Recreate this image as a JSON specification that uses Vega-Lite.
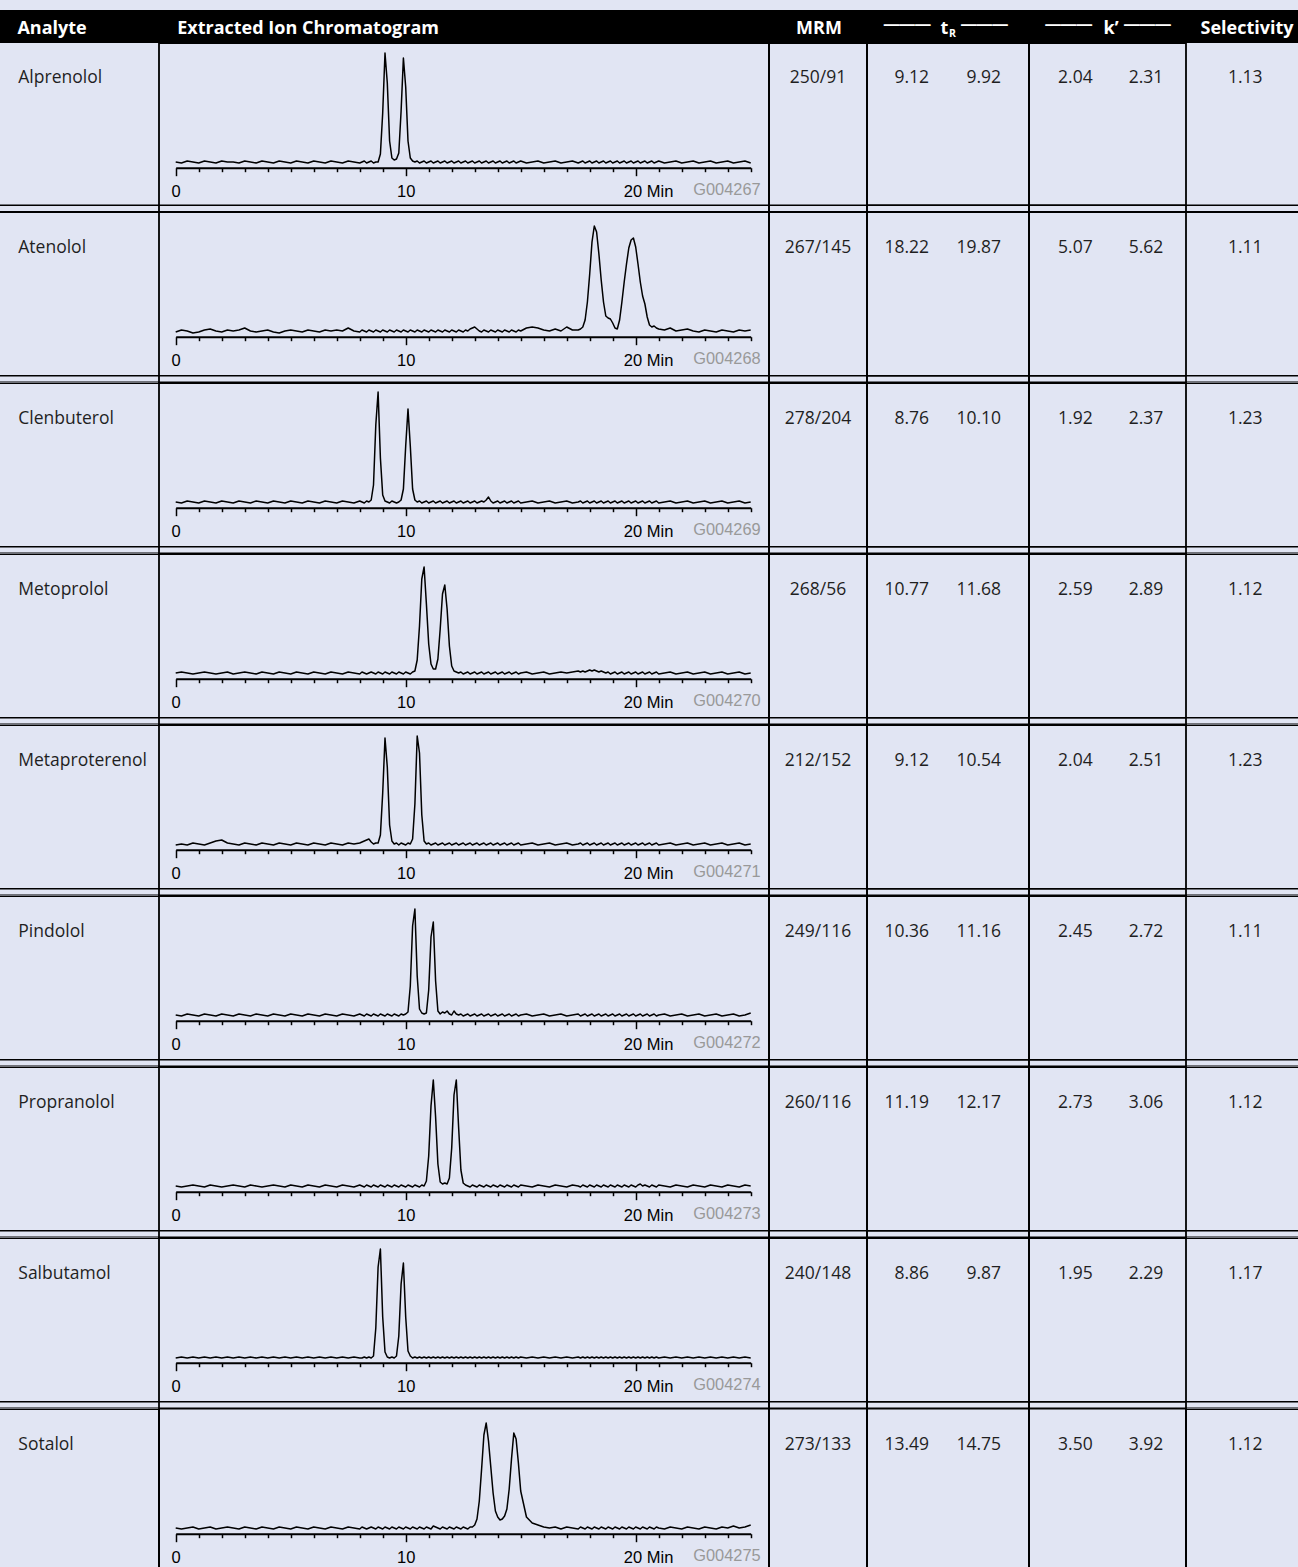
{
"$schema":"https://vega.github.io/schema/vega-lite/v6.json",
"background":"#e1e5f3",
"padding":{"left":0,"top":10,"right":0,"bottom":0},
"columns":6,
"spacing":0,
"bounds":"flush",
"align":"each",
"config":{"view":{"stroke":null},"font":"Open Sans","text":{"font":"Open Sans","fontSize":17.5,"color":"#1f1f1f","baseline":"alphabetic"},"rule":{"color":"black"},
"axis":{"domainColor":"black","domainWidth":2,"tickColor":"black","tickWidth":1.5,"labelFont":"Liberation Sans","labelFontSize":16.5,"labelColor":"black","labelPadding":7.5,"labelOverlap":false,"labelFlush":false,"labelBound":false,"grid":false}},
"data":{"name":"table"},
"datasets":{
"table":[
{"r":"a","analyte":"Alprenolol","mrm":"250/91","tr1":9.12,"tr2":9.92,"k1":2.04,"k2":2.31,"sel":1.13,"code":"G004267"},
{"r":"b","analyte":"Atenolol","mrm":"267/145","tr1":18.22,"tr2":19.87,"k1":5.07,"k2":5.62,"sel":1.11,"code":"G004268"},
{"r":"c","analyte":"Clenbuterol","mrm":"278/204","tr1":8.76,"tr2":10.10,"k1":1.92,"k2":2.37,"sel":1.23,"code":"G004269"},
{"r":"d","analyte":"Metoprolol","mrm":"268/56","tr1":10.77,"tr2":11.68,"k1":2.59,"k2":2.89,"sel":1.12,"code":"G004270"},
{"r":"e","analyte":"Metaproterenol","mrm":"212/152","tr1":9.12,"tr2":10.54,"k1":2.04,"k2":2.51,"sel":1.23,"code":"G004271"},
{"r":"f","analyte":"Pindolol","mrm":"249/116","tr1":10.36,"tr2":11.16,"k1":2.45,"k2":2.72,"sel":1.11,"code":"G004272"},
{"r":"g","analyte":"Propranolol","mrm":"260/116","tr1":11.19,"tr2":12.17,"k1":2.73,"k2":3.06,"sel":1.12,"code":"G004273"},
{"r":"h","analyte":"Salbutamol","mrm":"240/148","tr1":8.86,"tr2":9.87,"k1":1.95,"k2":2.29,"sel":1.17,"code":"G004274"},
{"r":"i","analyte":"Sotalol","mrm":"273/133","tr1":13.49,"tr2":14.75,"k1":3.50,"k2":3.92,"sel":1.12,"code":"G004275"}
],
"chrom":[
{"t":0,"a":1,"b":0,"c":1,"d":1,"e":0,"f":1,"g":1,"h":0,"i":1},
{"t":0.25,"a":0,"b":2,"c":0,"d":2,"e":1,"f":0,"g":0,"h":1,"i":0},
{"t":0.5,"a":2,"b":1,"c":2,"d":1,"e":0,"f":2,"g":1,"h":0,"i":1},
{"t":0.75,"a":1,"b":-1,"c":1,"d":0,"e":2,"f":1,"g":2,"h":1,"i":2},
{"t":1,"a":0,"b":0,"c":0,"d":1,"e":1,"f":0,"g":1,"h":0,"i":0},
{"t":1.25,"a":2,"b":2,"c":2,"d":2,"e":0,"f":2,"g":0,"h":1,"i":1},
{"t":1.5,"a":1,"b":3,"c":1,"d":1,"e":2,"f":1,"g":2,"h":0,"i":2},
{"t":1.75,"a":0,"b":1,"c":0,"d":0,"e":4,"f":0,"g":1,"h":1,"i":0},
{"t":2,"a":2,"b":0,"c":2,"d":1,"e":5,"f":2,"g":0,"h":0,"i":1},
{"t":2.25,"a":1,"b":2,"c":1,"d":2,"e":2,"f":1,"g":1,"h":1,"i":2},
{"t":2.5,"a":1,"b":1,"c":0,"d":0,"e":1,"f":0,"g":2,"h":0,"i":1},
{"t":2.75,"a":0,"b":2,"c":2,"d":1,"e":0,"f":2,"g":1,"h":1,"i":0},
{"t":3,"a":2,"b":4,"c":1,"d":2,"e":2,"f":1,"g":0,"h":0,"i":2},
{"t":3.25,"a":1,"b":1,"c":0,"d":1,"e":1,"f":0,"g":2,"h":1,"i":1},
{"t":3.5,"a":0,"b":0,"c":2,"d":0,"e":0,"f":2,"g":1,"h":0,"i":0},
{"t":3.75,"a":2,"b":1,"c":1,"d":2,"e":2,"f":1,"g":0,"h":1,"i":2},
{"t":4,"a":1,"b":2,"c":0,"d":1,"e":1,"f":0,"g":1,"h":0,"i":1},
{"t":4.25,"a":0,"b":0,"c":2,"d":0,"e":0,"f":2,"g":2,"h":1,"i":0},
{"t":4.5,"a":2,"b":-1,"c":1,"d":2,"e":2,"f":1,"g":1,"h":0,"i":2},
{"t":4.75,"a":1,"b":1,"c":0,"d":1,"e":1,"f":0,"g":0,"h":1,"i":1},
{"t":5,"a":0,"b":2,"c":2,"d":0,"e":0,"f":2,"g":2,"h":0,"i":0},
{"t":5.25,"a":2,"b":1,"c":1,"d":2,"e":2,"f":1,"g":1,"h":1,"i":2},
{"t":5.5,"a":1,"b":0,"c":0,"d":1,"e":1,"f":0,"g":0,"h":0,"i":1},
{"t":5.75,"a":0,"b":2,"c":2,"d":0,"e":0,"f":2,"g":2,"h":1,"i":0},
{"t":6,"a":2,"b":1,"c":1,"d":2,"e":2,"f":1,"g":1,"h":0,"i":2},
{"t":6.25,"a":1,"b":0,"c":0,"d":1,"e":1,"f":0,"g":0,"h":1,"i":1},
{"t":6.5,"a":0,"b":2,"c":2,"d":0,"e":0,"f":2,"g":2,"h":0,"i":0},
{"t":6.75,"a":2,"b":1,"c":1,"d":2,"e":2,"f":1,"g":1,"h":1,"i":2},
{"t":7,"a":1,"b":2,"c":0,"d":1,"e":1,"f":0,"g":0,"h":0,"i":1},
{"t":7.25,"a":0,"b":1,"c":2,"d":0,"e":0,"f":2,"g":2,"h":1,"i":0},
{"t":7.5,"a":2,"b":4,"c":1,"d":2,"e":2,"f":1,"g":1,"h":0,"i":2},
{"t":7.75,"a":1,"b":1,"c":0,"d":1,"e":1,"f":0,"g":0,"h":1,"i":1},
{"t":8,"a":0,"b":0,"c":2,"d":0,"e":2,"f":2,"g":2,"h":0,"i":0},
{"t":8.1,"a":1,"b":2,"c":1,"d":2,"e":3,"f":1,"g":1,"h":0,"i":2},
{"t":8.2,"a":2,"b":1,"c":0,"d":1,"e":4,"f":0,"g":0,"h":1,"i":1},
{"t":8.3,"a":0,"b":0,"c":2,"d":0,"e":5,"f":2,"g":2,"h":0,"i":0},
{"t":8.4,"a":1,"b":2,"c":1,"d":1,"e":6,"f":1,"g":1,"h":1,"i":1},
{"t":8.5,"a":2,"b":1,"c":3,"d":2,"e":3,"f":0,"g":0,"h":0,"i":2},
{"t":8.6,"a":0,"b":0,"c":18,"d":1,"e":1,"f":2,"g":2,"h":2,"i":1},
{"t":8.7,"a":1,"b":2,"c":78,"d":0,"e":2,"f":1,"g":1,"h":30,"i":0},
{"t":8.8,"a":1,"b":1,"c":111,"d":2,"e":2,"f":0,"g":0,"h":91,"i":2},
{"t":8.9,"a":9,"b":0,"c":45,"d":1,"e":10,"f":2,"g":2,"h":109,"i":1},
{"t":9,"a":50,"b":2,"c":8,"d":0,"e":52,"f":1,"g":1,"h":41,"i":0},
{"t":9.1,"a":110,"b":1,"c":2,"d":2,"e":107,"f":0,"g":0,"h":6,"i":2},
{"t":9.2,"a":80,"b":0,"c":1,"d":1,"e":78,"f":2,"g":2,"h":1,"i":1},
{"t":9.3,"a":22,"b":2,"c":0,"d":0,"e":20,"f":1,"g":1,"h":0,"i":0},
{"t":9.4,"a":5,"b":1,"c":2,"d":2,"e":4,"f":0,"g":0,"h":1,"i":2},
{"t":9.5,"a":3,"b":0,"c":1,"d":1,"e":1,"f":2,"g":2,"h":0,"i":1},
{"t":9.6,"a":4,"b":2,"c":0,"d":0,"e":2,"f":1,"g":1,"h":2,"i":0},
{"t":9.7,"a":10,"b":1,"c":1,"d":2,"e":0,"f":0,"g":0,"h":22,"i":2},
{"t":9.8,"a":52,"b":0,"c":3,"d":1,"e":2,"f":2,"g":2,"h":74,"i":1},
{"t":9.9,"a":105,"b":2,"c":14,"d":0,"e":1,"f":1,"g":1,"h":95,"i":0},
{"t":10,"a":76,"b":1,"c":57,"d":2,"e":0,"f":2,"g":0,"h":41,"i":2},
{"t":10.1,"a":22,"b":0,"c":94,"d":1,"e":2,"f":4,"g":2,"h":7,"i":1},
{"t":10.2,"a":5,"b":2,"c":57,"d":0,"e":1,"f":30,"g":1,"h":2,"i":0},
{"t":10.3,"a":2,"b":1,"c":14,"d":2,"e":6,"f":90,"g":0,"h":0,"i":2},
{"t":10.4,"a":1,"b":0,"c":3,"d":3,"e":41,"f":107,"g":2,"h":1,"i":1},
{"t":10.5,"a":2,"b":2,"c":1,"d":14,"e":109,"f":40,"g":1,"h":0,"i":0},
{"t":10.6,"a":0,"b":1,"c":2,"d":48,"e":92,"f":7,"g":0,"h":1,"i":2},
{"t":10.7,"a":1,"b":0,"c":0,"d":95,"e":30,"f":3,"g":2,"h":0,"i":1},
{"t":10.8,"a":2,"b":2,"c":1,"d":107,"e":4,"f":2,"g":1,"h":1,"i":0},
{"t":10.9,"a":0,"b":1,"c":2,"d":70,"e":1,"f":3,"g":6,"h":0,"i":2},
{"t":11,"a":1,"b":0,"c":0,"d":30,"e":2,"f":26,"g":31,"h":1,"i":1},
{"t":11.1,"a":2,"b":2,"c":1,"d":10,"e":0,"f":79,"g":81,"h":0,"i":0},
{"t":11.2,"a":0,"b":1,"c":2,"d":5,"e":1,"f":94,"g":107,"h":1,"i":3},
{"t":11.3,"a":1,"b":0,"c":0,"d":5,"e":2,"f":35,"g":70,"h":0,"i":2},
{"t":11.4,"a":2,"b":2,"c":1,"d":15,"e":0,"f":5,"g":23,"h":1,"i":1},
{"t":11.5,"a":0,"b":1,"c":2,"d":45,"e":1,"f":2,"g":5,"h":0,"i":0},
{"t":11.6,"a":1,"b":0,"c":0,"d":80,"e":2,"f":4,"g":3,"h":1,"i":2},
{"t":11.7,"a":2,"b":2,"c":1,"d":89,"e":0,"f":3,"g":4,"h":0,"i":1},
{"t":11.8,"a":0,"b":1,"c":2,"d":65,"e":1,"f":5,"g":3,"h":1,"i":0},
{"t":11.9,"a":1,"b":0,"c":0,"d":28,"e":2,"f":2,"g":9,"h":0,"i":2},
{"t":12,"a":2,"b":2,"c":1,"d":8,"e":0,"f":1,"g":39,"h":1,"i":1},
{"t":12.1,"a":0,"b":1,"c":2,"d":3,"e":1,"f":5,"g":92,"h":0,"i":0},
{"t":12.2,"a":1,"b":0,"c":0,"d":2,"e":2,"f":2,"g":107,"h":1,"i":2},
{"t":12.3,"a":2,"b":2,"c":1,"d":1,"e":0,"f":1,"g":60,"h":0,"i":1},
{"t":12.4,"a":0,"b":1,"c":2,"d":2,"e":1,"f":2,"g":17,"h":1,"i":0},
{"t":12.5,"a":1,"b":0,"c":0,"d":0,"e":2,"f":0,"g":4,"h":0,"i":2},
{"t":12.6,"a":2,"b":2,"c":1,"d":1,"e":0,"f":1,"g":2,"h":1,"i":1},
{"t":12.7,"a":0,"b":1,"c":2,"d":2,"e":1,"f":2,"g":1,"h":0,"i":0},
{"t":12.8,"a":1,"b":3,"c":0,"d":0,"e":2,"f":0,"g":0,"h":1,"i":2},
{"t":12.9,"a":2,"b":4,"c":1,"d":1,"e":0,"f":1,"g":2,"h":0,"i":2},
{"t":13,"a":0,"b":5,"c":2,"d":2,"e":1,"f":2,"g":1,"h":1,"i":4},
{"t":13.1,"a":1,"b":3,"c":0,"d":0,"e":2,"f":0,"g":0,"h":0,"i":10},
{"t":13.2,"a":2,"b":1,"c":1,"d":1,"e":0,"f":1,"g":2,"h":1,"i":28},
{"t":13.3,"a":0,"b":0,"c":2,"d":2,"e":1,"f":2,"g":1,"h":0,"i":60},
{"t":13.4,"a":1,"b":2,"c":1,"d":0,"e":2,"f":0,"g":0,"h":1,"i":94},
{"t":13.5,"a":2,"b":1,"c":3,"d":1,"e":0,"f":1,"g":2,"h":0,"i":106},
{"t":13.6,"a":0,"b":0,"c":6,"d":2,"e":1,"f":2,"g":1,"h":1,"i":88},
{"t":13.7,"a":1,"b":2,"c":2,"d":0,"e":2,"f":0,"g":0,"h":0,"i":62},
{"t":13.8,"a":2,"b":1,"c":0,"d":1,"e":0,"f":1,"g":2,"h":1,"i":36},
{"t":13.9,"a":0,"b":0,"c":1,"d":2,"e":1,"f":2,"g":1,"h":0,"i":18},
{"t":14,"a":1,"b":2,"c":2,"d":0,"e":2,"f":0,"g":0,"h":1,"i":12},
{"t":14.1,"a":2,"b":1,"c":0,"d":1,"e":0,"f":1,"g":2,"h":0,"i":9},
{"t":14.2,"a":0,"b":0,"c":1,"d":2,"e":1,"f":2,"g":1,"h":1,"i":10},
{"t":14.3,"a":1,"b":2,"c":2,"d":0,"e":2,"f":0,"g":0,"h":0,"i":13},
{"t":14.4,"a":2,"b":1,"c":0,"d":1,"e":0,"f":1,"g":2,"h":1,"i":20},
{"t":14.5,"a":0,"b":0,"c":1,"d":2,"e":1,"f":2,"g":1,"h":0,"i":40},
{"t":14.6,"a":1,"b":2,"c":2,"d":0,"e":2,"f":0,"g":0,"h":1,"i":70},
{"t":14.7,"a":2,"b":1,"c":0,"d":1,"e":0,"f":1,"g":2,"h":0,"i":96},
{"t":14.8,"a":0,"b":0,"c":1,"d":2,"e":1,"f":2,"g":1,"h":1,"i":90},
{"t":14.9,"a":1,"b":2,"c":2,"d":0,"e":2,"f":0,"g":0,"h":0,"i":66},
{"t":15,"a":2,"b":1,"c":0,"d":1,"e":0,"f":1,"g":2,"h":1,"i":38},
{"t":15.25,"a":0,"b":4,"c":1,"d":2,"e":1,"f":2,"g":1,"h":0,"i":12},
{"t":15.5,"a":1,"b":5,"c":2,"d":0,"e":2,"f":0,"g":0,"h":1,"i":6},
{"t":15.75,"a":2,"b":4,"c":0,"d":1,"e":0,"f":1,"g":2,"h":0,"i":4},
{"t":16,"a":0,"b":2,"c":1,"d":2,"e":1,"f":2,"g":1,"h":1,"i":2},
{"t":16.25,"a":1,"b":1,"c":2,"d":0,"e":2,"f":0,"g":0,"h":0,"i":1},
{"t":16.5,"a":2,"b":3,"c":0,"d":1,"e":0,"f":1,"g":2,"h":1,"i":2},
{"t":16.75,"a":0,"b":1,"c":1,"d":2,"e":1,"f":2,"g":1,"h":0,"i":0},
{"t":17,"a":1,"b":5,"c":2,"d":1,"e":2,"f":0,"g":0,"h":1,"i":2},
{"t":17.25,"a":2,"b":2,"c":0,"d":2,"e":0,"f":1,"g":2,"h":0,"i":1},
{"t":17.5,"a":0,"b":2,"c":1,"d":3,"e":1,"f":2,"g":1,"h":1,"i":0},
{"t":17.6,"a":1,"b":3,"c":2,"d":2,"e":2,"f":0,"g":0,"h":0,"i":2},
{"t":17.7,"a":2,"b":5,"c":0,"d":3,"e":0,"f":1,"g":2,"h":1,"i":1},
{"t":17.8,"a":0,"b":12,"c":1,"d":2,"e":1,"f":2,"g":1,"h":0,"i":0},
{"t":17.9,"a":1,"b":30,"c":2,"d":3,"e":2,"f":0,"g":0,"h":1,"i":2},
{"t":18,"a":2,"b":58,"c":0,"d":4,"e":0,"f":1,"g":2,"h":0,"i":1},
{"t":18.1,"a":0,"b":90,"c":1,"d":3,"e":1,"f":2,"g":1,"h":1,"i":0},
{"t":18.2,"a":1,"b":106,"c":2,"d":4,"e":2,"f":0,"g":0,"h":0,"i":2},
{"t":18.3,"a":2,"b":100,"c":0,"d":3,"e":0,"f":1,"g":2,"h":1,"i":1},
{"t":18.4,"a":0,"b":78,"c":1,"d":2,"e":1,"f":2,"g":1,"h":0,"i":0},
{"t":18.5,"a":1,"b":52,"c":2,"d":3,"e":2,"f":0,"g":0,"h":1,"i":2},
{"t":18.6,"a":2,"b":30,"c":0,"d":2,"e":0,"f":1,"g":2,"h":0,"i":1},
{"t":18.7,"a":0,"b":16,"c":1,"d":1,"e":1,"f":2,"g":1,"h":1,"i":0},
{"t":18.8,"a":1,"b":14,"c":2,"d":2,"e":2,"f":0,"g":0,"h":0,"i":2},
{"t":18.9,"a":2,"b":13,"c":0,"d":0,"e":0,"f":1,"g":2,"h":1,"i":1},
{"t":19,"a":0,"b":9,"c":1,"d":1,"e":1,"f":2,"g":1,"h":0,"i":0},
{"t":19.1,"a":1,"b":4,"c":2,"d":2,"e":2,"f":0,"g":0,"h":1,"i":2},
{"t":19.2,"a":2,"b":3,"c":0,"d":0,"e":0,"f":1,"g":2,"h":0,"i":1},
{"t":19.3,"a":0,"b":12,"c":1,"d":1,"e":1,"f":2,"g":1,"h":1,"i":0},
{"t":19.4,"a":1,"b":30,"c":2,"d":2,"e":2,"f":0,"g":0,"h":0,"i":2},
{"t":19.5,"a":2,"b":50,"c":0,"d":0,"e":0,"f":1,"g":2,"h":1,"i":1},
{"t":19.6,"a":0,"b":68,"c":1,"d":1,"e":1,"f":2,"g":1,"h":0,"i":0},
{"t":19.7,"a":1,"b":84,"c":2,"d":2,"e":2,"f":0,"g":0,"h":1,"i":2},
{"t":19.8,"a":2,"b":92,"c":0,"d":0,"e":0,"f":1,"g":2,"h":0,"i":1},
{"t":19.9,"a":0,"b":94,"c":1,"d":1,"e":1,"f":2,"g":1,"h":1,"i":0},
{"t":20,"a":1,"b":85,"c":2,"d":2,"e":2,"f":0,"g":0,"h":0,"i":2},
{"t":20.1,"a":2,"b":68,"c":0,"d":0,"e":0,"f":1,"g":2,"h":1,"i":1},
{"t":20.2,"a":0,"b":50,"c":1,"d":1,"e":1,"f":2,"g":3,"h":0,"i":0},
{"t":20.3,"a":1,"b":36,"c":2,"d":2,"e":2,"f":0,"g":1,"h":1,"i":2},
{"t":20.4,"a":2,"b":28,"c":0,"d":0,"e":0,"f":1,"g":2,"h":0,"i":1},
{"t":20.5,"a":0,"b":15,"c":1,"d":1,"e":1,"f":2,"g":1,"h":1,"i":0},
{"t":20.6,"a":1,"b":7,"c":2,"d":2,"e":2,"f":0,"g":0,"h":0,"i":2},
{"t":20.7,"a":2,"b":5,"c":0,"d":0,"e":0,"f":1,"g":2,"h":1,"i":1},
{"t":20.8,"a":0,"b":6,"c":1,"d":1,"e":1,"f":2,"g":1,"h":0,"i":0},
{"t":20.9,"a":1,"b":4,"c":2,"d":2,"e":2,"f":0,"g":0,"h":1,"i":2},
{"t":21,"a":2,"b":3,"c":0,"d":0,"e":0,"f":1,"g":2,"h":0,"i":1},
{"t":21.25,"a":0,"b":2,"c":1,"d":1,"e":1,"f":2,"g":1,"h":1,"i":0},
{"t":21.5,"a":1,"b":4,"c":2,"d":2,"e":2,"f":0,"g":0,"h":0,"i":2},
{"t":21.75,"a":2,"b":1,"c":0,"d":0,"e":0,"f":1,"g":2,"h":1,"i":1},
{"t":22,"a":0,"b":2,"c":1,"d":1,"e":1,"f":2,"g":1,"h":0,"i":0},
{"t":22.25,"a":1,"b":3,"c":2,"d":2,"e":2,"f":0,"g":0,"h":1,"i":2},
{"t":22.5,"a":2,"b":1,"c":0,"d":0,"e":0,"f":1,"g":2,"h":0,"i":1},
{"t":22.75,"a":0,"b":0,"c":1,"d":1,"e":1,"f":2,"g":1,"h":1,"i":0},
{"t":23,"a":1,"b":2,"c":2,"d":2,"e":2,"f":0,"g":0,"h":0,"i":2},
{"t":23.25,"a":2,"b":1,"c":0,"d":0,"e":0,"f":1,"g":2,"h":1,"i":1},
{"t":23.5,"a":0,"b":0,"c":1,"d":1,"e":1,"f":2,"g":1,"h":0,"i":0},
{"t":23.75,"a":1,"b":2,"c":2,"d":2,"e":2,"f":0,"g":0,"h":1,"i":2},
{"t":24,"a":2,"b":1,"c":0,"d":0,"e":0,"f":1,"g":2,"h":0,"i":1},
{"t":24.25,"a":0,"b":0,"c":1,"d":1,"e":1,"f":2,"g":1,"h":1,"i":3},
{"t":24.5,"a":1,"b":2,"c":2,"d":2,"e":2,"f":0,"g":0,"h":0,"i":1},
{"t":24.75,"a":2,"b":1,"c":0,"d":0,"e":0,"f":1,"g":2,"h":1,"i":2},
{"t":25,"a":0,"b":2,"c":1,"d":1,"e":1,"f":3,"g":1,"h":0,"i":4}
]
},
"concat":[
{"width":159,"height":33,"view":{"fill":"black"},"data":{"values":[{"label":"Analyte"}]},"mark":{"type":"text","color":"white","fontWeight":"bold","fontSize":18,"align":"left","dx":-62.1,"dy":7},"encoding":{"text":{"field":"label"}}},
{"width":610,"height":33,"view":{"fill":"black"},"data":{"values":[{"label":"Extracted Ion Chromatogram"}]},"mark":{"type":"text","color":"white","fontWeight":"bold","fontSize":18,"align":"left","dx":-286.8,"dy":7},"encoding":{"text":{"field":"label"}}},
{"width":98,"height":33,"view":{"fill":"black"},"data":{"values":[{"label":"MRM"}]},"mark":{"type":"text","color":"white","fontWeight":"bold","fontSize":18,"align":"center","dx":1,"dy":7},"encoding":{"text":{"field":"label"}}},
{"width":162,"height":33,"view":{"fill":"black"},"data":{"values":[{"sym":"t","sub":"R","bar":"———"}]},"layer":[
 {"mark":{"type":"text","color":"white","font":"Liberation Sans","fontWeight":"bold","fontSize":15.6,"align":"right","dx":-17.5,"dy":3.3},"encoding":{"text":{"field":"bar"}}},
 {"mark":{"type":"text","color":"white","fontWeight":"bold","fontSize":18,"align":"left","dx":-7.5,"dy":7},"encoding":{"text":{"field":"sym"}}},
 {"mark":{"type":"text","color":"white","fontWeight":"bold","fontSize":10.5,"align":"left","dx":1,"dy":10.2},"encoding":{"text":{"field":"sub"}}},
 {"mark":{"type":"text","color":"white","font":"Liberation Sans","fontWeight":"bold","fontSize":15.6,"align":"left","dx":13,"dy":3.3},"encoding":{"text":{"field":"bar"}}}
]},
{"width":157,"height":33,"view":{"fill":"black"},"data":{"values":[{"sym":"k’","bar":"———"}]},"layer":[
 {"mark":{"type":"text","color":"white","font":"Liberation Sans","fontWeight":"bold","fontSize":15.6,"align":"right","dx":-15.5,"dy":3.3},"encoding":{"text":{"field":"bar"}}},
 {"mark":{"type":"text","color":"white","fontWeight":"bold","fontSize":18,"align":"left","dx":-4,"dy":7},"encoding":{"text":{"field":"sym"}}},
 {"mark":{"type":"text","color":"white","font":"Liberation Sans","fontWeight":"bold","fontSize":15.6,"align":"left","dx":16.5,"dy":3.3},"encoding":{"text":{"field":"bar"}}}
]},
{"width":112,"height":33,"view":{"fill":"black"},"data":{"values":[{"label":"Selectivity"}]},"mark":{"type":"text","color":"white","fontWeight":"bold","fontSize":18,"align":"center","dx":5,"dy":7},"encoding":{"text":{"field":"label"}}},

{"width":159,"height":169,"transform":[{"filter":"datum.r=='a'"}],"layer":[
 {"mark":{"type":"text","align":"left","dx":18.3,"dy":40},"encoding":{"x":{"datum":0,"type":"quantitative","scale":{"domain":[0,1]},"axis":null},"y":{"field":"r","type":"nominal","scale":{"type":"band","paddingInner":0,"paddingOuter":0},"axis":null,"bandPosition":0},"text":{"field":"analyte"}}},
 {"mark":{"type":"rule","strokeWidth":1.5,"clip":true},"encoding":{"y":{"field":"r","type":"nominal","scale":{"type":"band","paddingInner":0,"paddingOuter":0},"axis":null,"bandPosition":0.96036}}},
 {"mark":{"type":"rule","strokeWidth":1.8,"clip":true},"encoding":{"y":{"field":"r","type":"nominal","scale":{"type":"band","paddingInner":0,"paddingOuter":0},"axis":null,"bandPosition":1}}}
]},
{"width":610,"height":169,"view":{"stroke":"black","strokeWidth":1.8},"data":{"name":"chrom"},"transform":[{"fold":["a"],"as":["r","v"]},{"lookup":"r","from":{"data":{"name":"table"},"key":"r","fields":["code"]}}],"resolve":{"scale":{"x":"independent","y":"independent"}},"layer":[
 {"mark":{"type":"line","color":"black","strokeWidth":1.5,"strokeJoin":"round"},"encoding":{"x":{"field":"t","type":"quantitative","scale":{"domain":[0,25],"range":[16.7,591.7],"nice":false},"axis":{"offset":-44.3,"values":[0,1,2,3,4,5,6,7,8,9,10,11,12,13,14,15,16,17,18,19,20,21,22,23,24,25],"tickSize":{"condition":{"test":"datum.value % 10 == 0","value":8},"value":4},"labelExpr":"datum.value == 20 ? '20 Min' : (datum.value % 10 == 0 ? datum.label : '')","labelAlign":{"condition":{"test":"datum.value == 20","value":"left"},"value":"center"},"labelOffset":{"condition":{"test":"datum.value == 20","value":-12.4},"value":0},"title":null}},"y":{"field":"v","type":"quantitative","scale":{"domain":[0,110],"range":[120,10],"nice":false},"axis":null}}},
 {"transform":[{"filter":"datum.t == 25"}],"mark":{"type":"text","font":"Liberation Sans","fontSize":16.4,"color":"#999999","align":"right","dx":10,"dy":32.3},"encoding":{"x":{"field":"t","type":"quantitative","scale":{"domain":[0,25],"range":[16.7,591.7],"nice":false},"axis":null},"y":{"datum":0,"type":"quantitative","scale":{"domain":[0,110],"range":[120,10],"nice":false},"axis":null},"text":{"field":"code"}}},
 {"transform":[{"filter":"datum.t == 0"}],"mark":{"type":"rule","strokeWidth":1.5},"encoding":{"y":{"field":"r","type":"nominal","scale":{"type":"band","paddingInner":0,"paddingOuter":0},"axis":null,"bandPosition":0.96036}}}
]},
{"width":98,"height":169,"view":{"stroke":"black","strokeWidth":1.8},"transform":[{"filter":"datum.r=='a'"}],"layer":[
 {"mark":{"type":"text","align":"center","dy":40},"encoding":{"y":{"field":"r","type":"nominal","scale":{"type":"band","paddingInner":0,"paddingOuter":0},"axis":null,"bandPosition":0},"text":{"field":"mrm"}}},
 {"mark":{"type":"rule","strokeWidth":1.5},"encoding":{"y":{"field":"r","type":"nominal","scale":{"type":"band","paddingInner":0,"paddingOuter":0},"axis":null,"bandPosition":0.96036}}}
]},
{"width":162,"height":169,"view":{"stroke":"black","strokeWidth":1.8},"transform":[{"filter":"datum.r=='a'"},{"fold":["tr1","tr2"],"as":["which","val"]}],"layer":[
 {"mark":{"type":"text","align":"right","dx":17,"dy":40},"encoding":{"x":{"field":"which","type":"nominal","scale":{"type":"point","padding":0.625},"axis":null},"y":{"field":"r","type":"nominal","scale":{"type":"band","paddingInner":0,"paddingOuter":0},"axis":null,"bandPosition":0},"text":{"field":"val","type":"quantitative","format":".2f"}}},
 {"mark":{"type":"rule","strokeWidth":1.5},"encoding":{"y":{"field":"r","type":"nominal","scale":{"type":"band","paddingInner":0,"paddingOuter":0},"axis":null,"bandPosition":0.96036}}}
]},
{"width":157,"height":169,"view":{"stroke":"black","strokeWidth":1.8},"transform":[{"filter":"datum.r=='a'"},{"fold":["k1","k2"],"as":["which","val"]}],"layer":[
 {"mark":{"type":"text","align":"right","dx":20.5,"dy":40},"encoding":{"x":{"field":"which","type":"nominal","scale":{"type":"point","padding":0.612},"axis":null},"y":{"field":"r","type":"nominal","scale":{"type":"band","paddingInner":0,"paddingOuter":0},"axis":null,"bandPosition":0},"text":{"field":"val","type":"quantitative","format":".2f"}}},
 {"mark":{"type":"rule","strokeWidth":1.5},"encoding":{"y":{"field":"r","type":"nominal","scale":{"type":"band","paddingInner":0,"paddingOuter":0},"axis":null,"bandPosition":0.96036}}}
]},
{"width":112,"height":169,"transform":[{"filter":"datum.r=='a'"}],"layer":[
 {"mark":{"type":"text","align":"center","dx":3.3,"dy":40},"encoding":{"y":{"field":"r","type":"nominal","scale":{"type":"band","paddingInner":0,"paddingOuter":0},"axis":null,"bandPosition":0},"text":{"field":"sel","type":"quantitative","format":".2f"}}},
 {"mark":{"type":"rule","strokeWidth":1.5,"clip":true},"encoding":{"y":{"field":"r","type":"nominal","scale":{"type":"band","paddingInner":0,"paddingOuter":0},"axis":null,"bandPosition":0.96036}}},
 {"mark":{"type":"rule","strokeWidth":1.8,"clip":true},"encoding":{"y":{"field":"r","type":"nominal","scale":{"type":"band","paddingInner":0,"paddingOuter":0},"axis":null,"bandPosition":1}}}
]},

{"width":159,"height":170.5,"transform":[{"filter":"datum.r=='b'"}],"layer":[
 {"mark":{"type":"text","align":"left","dx":18.3,"dy":41},"encoding":{"x":{"datum":0,"type":"quantitative","scale":{"domain":[0,1]},"axis":null},"y":{"field":"r","type":"nominal","scale":{"type":"band","paddingInner":0,"paddingOuter":0},"axis":null,"bandPosition":0},"text":{"field":"analyte"}}},
 {"mark":{"type":"rule","strokeWidth":1.5,"clip":true},"encoding":{"y":{"field":"r","type":"nominal","scale":{"type":"band","paddingInner":0,"paddingOuter":0},"axis":null,"bandPosition":0.9607}}},
 {"mark":{"type":"rule","strokeWidth":1.8,"clip":true},"encoding":{"y":{"field":"r","type":"nominal","scale":{"type":"band","paddingInner":0,"paddingOuter":0},"axis":null,"bandPosition":1}}},
 {"mark":{"type":"rule","strokeWidth":1.8,"clip":true},"encoding":{"y":{"field":"r","type":"nominal","scale":{"type":"band","paddingInner":0,"paddingOuter":0},"axis":null,"bandPosition":0}}}
]},
{"width":610,"height":170.5,"view":{"stroke":"black","strokeWidth":1.8},"data":{"name":"chrom"},"transform":[{"fold":["b"],"as":["r","v"]},{"lookup":"r","from":{"data":{"name":"table"},"key":"r","fields":["code"]}}],"resolve":{"scale":{"x":"independent","y":"independent"}},"layer":[
 {"mark":{"type":"line","color":"black","strokeWidth":1.5,"strokeJoin":"round"},"encoding":{"x":{"field":"t","type":"quantitative","scale":{"domain":[0,25],"range":[16.7,591.7],"nice":false},"axis":{"offset":-45.8,"values":[0,1,2,3,4,5,6,7,8,9,10,11,12,13,14,15,16,17,18,19,20,21,22,23,24,25],"tickSize":{"condition":{"test":"datum.value % 10 == 0","value":8},"value":4},"labelExpr":"datum.value == 20 ? '20 Min' : (datum.value % 10 == 0 ? datum.label : '')","labelAlign":{"condition":{"test":"datum.value == 20","value":"left"},"value":"center"},"labelOffset":{"condition":{"test":"datum.value == 20","value":-12.4},"value":0},"title":null}},"y":{"field":"v","type":"quantitative","scale":{"domain":[0,110],"range":[120,10],"nice":false},"axis":null}}},
 {"transform":[{"filter":"datum.t == 25"}],"mark":{"type":"text","font":"Liberation Sans","fontSize":16.4,"color":"#999999","align":"right","dx":10,"dy":32.3},"encoding":{"x":{"field":"t","type":"quantitative","scale":{"domain":[0,25],"range":[16.7,591.7],"nice":false},"axis":null},"y":{"datum":0,"type":"quantitative","scale":{"domain":[0,110],"range":[120,10],"nice":false},"axis":null},"text":{"field":"code"}}},
 {"transform":[{"filter":"datum.t == 0"}],"mark":{"type":"rule","strokeWidth":1.5},"encoding":{"y":{"field":"r","type":"nominal","scale":{"type":"band","paddingInner":0,"paddingOuter":0},"axis":null,"bandPosition":0.9607}}}
]},
{"width":98,"height":170.5,"view":{"stroke":"black","strokeWidth":1.8},"transform":[{"filter":"datum.r=='b'"}],"layer":[
 {"mark":{"type":"text","align":"center","dy":41},"encoding":{"y":{"field":"r","type":"nominal","scale":{"type":"band","paddingInner":0,"paddingOuter":0},"axis":null,"bandPosition":0},"text":{"field":"mrm"}}},
 {"mark":{"type":"rule","strokeWidth":1.5},"encoding":{"y":{"field":"r","type":"nominal","scale":{"type":"band","paddingInner":0,"paddingOuter":0},"axis":null,"bandPosition":0.9607}}}
]},
{"width":162,"height":170.5,"view":{"stroke":"black","strokeWidth":1.8},"transform":[{"filter":"datum.r=='b'"},{"fold":["tr1","tr2"],"as":["which","val"]}],"layer":[
 {"mark":{"type":"text","align":"right","dx":17,"dy":41},"encoding":{"x":{"field":"which","type":"nominal","scale":{"type":"point","padding":0.625},"axis":null},"y":{"field":"r","type":"nominal","scale":{"type":"band","paddingInner":0,"paddingOuter":0},"axis":null,"bandPosition":0},"text":{"field":"val","type":"quantitative","format":".2f"}}},
 {"mark":{"type":"rule","strokeWidth":1.5},"encoding":{"y":{"field":"r","type":"nominal","scale":{"type":"band","paddingInner":0,"paddingOuter":0},"axis":null,"bandPosition":0.9607}}}
]},
{"width":157,"height":170.5,"view":{"stroke":"black","strokeWidth":1.8},"transform":[{"filter":"datum.r=='b'"},{"fold":["k1","k2"],"as":["which","val"]}],"layer":[
 {"mark":{"type":"text","align":"right","dx":20.5,"dy":41},"encoding":{"x":{"field":"which","type":"nominal","scale":{"type":"point","padding":0.612},"axis":null},"y":{"field":"r","type":"nominal","scale":{"type":"band","paddingInner":0,"paddingOuter":0},"axis":null,"bandPosition":0},"text":{"field":"val","type":"quantitative","format":".2f"}}},
 {"mark":{"type":"rule","strokeWidth":1.5},"encoding":{"y":{"field":"r","type":"nominal","scale":{"type":"band","paddingInner":0,"paddingOuter":0},"axis":null,"bandPosition":0.9607}}}
]},
{"width":112,"height":170.5,"transform":[{"filter":"datum.r=='b'"}],"layer":[
 {"mark":{"type":"text","align":"center","dx":3.3,"dy":41},"encoding":{"y":{"field":"r","type":"nominal","scale":{"type":"band","paddingInner":0,"paddingOuter":0},"axis":null,"bandPosition":0},"text":{"field":"sel","type":"quantitative","format":".2f"}}},
 {"mark":{"type":"rule","strokeWidth":1.5,"clip":true},"encoding":{"y":{"field":"r","type":"nominal","scale":{"type":"band","paddingInner":0,"paddingOuter":0},"axis":null,"bandPosition":0.9607}}},
 {"mark":{"type":"rule","strokeWidth":1.8,"clip":true},"encoding":{"y":{"field":"r","type":"nominal","scale":{"type":"band","paddingInner":0,"paddingOuter":0},"axis":null,"bandPosition":1}}},
 {"mark":{"type":"rule","strokeWidth":1.8,"clip":true},"encoding":{"y":{"field":"r","type":"nominal","scale":{"type":"band","paddingInner":0,"paddingOuter":0},"axis":null,"bandPosition":0}}}
]},

{"width":159,"height":170.5,"transform":[{"filter":"datum.r=='c'"}],"layer":[
 {"mark":{"type":"text","align":"left","dx":18.3,"dy":41},"encoding":{"x":{"datum":0,"type":"quantitative","scale":{"domain":[0,1]},"axis":null},"y":{"field":"r","type":"nominal","scale":{"type":"band","paddingInner":0,"paddingOuter":0},"axis":null,"bandPosition":0},"text":{"field":"analyte"}}},
 {"mark":{"type":"rule","strokeWidth":1.5,"clip":true},"encoding":{"y":{"field":"r","type":"nominal","scale":{"type":"band","paddingInner":0,"paddingOuter":0},"axis":null,"bandPosition":0.9607}}},
 {"mark":{"type":"rule","strokeWidth":1.8,"clip":true},"encoding":{"y":{"field":"r","type":"nominal","scale":{"type":"band","paddingInner":0,"paddingOuter":0},"axis":null,"bandPosition":1}}},
 {"mark":{"type":"rule","strokeWidth":1.8,"clip":true},"encoding":{"y":{"field":"r","type":"nominal","scale":{"type":"band","paddingInner":0,"paddingOuter":0},"axis":null,"bandPosition":0}}}
]},
{"width":610,"height":170.5,"view":{"stroke":"black","strokeWidth":1.8},"data":{"name":"chrom"},"transform":[{"fold":["c"],"as":["r","v"]},{"lookup":"r","from":{"data":{"name":"table"},"key":"r","fields":["code"]}}],"resolve":{"scale":{"x":"independent","y":"independent"}},"layer":[
 {"mark":{"type":"line","color":"black","strokeWidth":1.5,"strokeJoin":"round"},"encoding":{"x":{"field":"t","type":"quantitative","scale":{"domain":[0,25],"range":[16.7,591.7],"nice":false},"axis":{"offset":-45.8,"values":[0,1,2,3,4,5,6,7,8,9,10,11,12,13,14,15,16,17,18,19,20,21,22,23,24,25],"tickSize":{"condition":{"test":"datum.value % 10 == 0","value":8},"value":4},"labelExpr":"datum.value == 20 ? '20 Min' : (datum.value % 10 == 0 ? datum.label : '')","labelAlign":{"condition":{"test":"datum.value == 20","value":"left"},"value":"center"},"labelOffset":{"condition":{"test":"datum.value == 20","value":-12.4},"value":0},"title":null}},"y":{"field":"v","type":"quantitative","scale":{"domain":[0,110],"range":[120,10],"nice":false},"axis":null}}},
 {"transform":[{"filter":"datum.t == 25"}],"mark":{"type":"text","font":"Liberation Sans","fontSize":16.4,"color":"#999999","align":"right","dx":10,"dy":32.3},"encoding":{"x":{"field":"t","type":"quantitative","scale":{"domain":[0,25],"range":[16.7,591.7],"nice":false},"axis":null},"y":{"datum":0,"type":"quantitative","scale":{"domain":[0,110],"range":[120,10],"nice":false},"axis":null},"text":{"field":"code"}}},
 {"transform":[{"filter":"datum.t == 0"}],"mark":{"type":"rule","strokeWidth":1.5},"encoding":{"y":{"field":"r","type":"nominal","scale":{"type":"band","paddingInner":0,"paddingOuter":0},"axis":null,"bandPosition":0.9607}}}
]},
{"width":98,"height":170.5,"view":{"stroke":"black","strokeWidth":1.8},"transform":[{"filter":"datum.r=='c'"}],"layer":[
 {"mark":{"type":"text","align":"center","dy":41},"encoding":{"y":{"field":"r","type":"nominal","scale":{"type":"band","paddingInner":0,"paddingOuter":0},"axis":null,"bandPosition":0},"text":{"field":"mrm"}}},
 {"mark":{"type":"rule","strokeWidth":1.5},"encoding":{"y":{"field":"r","type":"nominal","scale":{"type":"band","paddingInner":0,"paddingOuter":0},"axis":null,"bandPosition":0.9607}}}
]},
{"width":162,"height":170.5,"view":{"stroke":"black","strokeWidth":1.8},"transform":[{"filter":"datum.r=='c'"},{"fold":["tr1","tr2"],"as":["which","val"]}],"layer":[
 {"mark":{"type":"text","align":"right","dx":17,"dy":41},"encoding":{"x":{"field":"which","type":"nominal","scale":{"type":"point","padding":0.625},"axis":null},"y":{"field":"r","type":"nominal","scale":{"type":"band","paddingInner":0,"paddingOuter":0},"axis":null,"bandPosition":0},"text":{"field":"val","type":"quantitative","format":".2f"}}},
 {"mark":{"type":"rule","strokeWidth":1.5},"encoding":{"y":{"field":"r","type":"nominal","scale":{"type":"band","paddingInner":0,"paddingOuter":0},"axis":null,"bandPosition":0.9607}}}
]},
{"width":157,"height":170.5,"view":{"stroke":"black","strokeWidth":1.8},"transform":[{"filter":"datum.r=='c'"},{"fold":["k1","k2"],"as":["which","val"]}],"layer":[
 {"mark":{"type":"text","align":"right","dx":20.5,"dy":41},"encoding":{"x":{"field":"which","type":"nominal","scale":{"type":"point","padding":0.612},"axis":null},"y":{"field":"r","type":"nominal","scale":{"type":"band","paddingInner":0,"paddingOuter":0},"axis":null,"bandPosition":0},"text":{"field":"val","type":"quantitative","format":".2f"}}},
 {"mark":{"type":"rule","strokeWidth":1.5},"encoding":{"y":{"field":"r","type":"nominal","scale":{"type":"band","paddingInner":0,"paddingOuter":0},"axis":null,"bandPosition":0.9607}}}
]},
{"width":112,"height":170.5,"transform":[{"filter":"datum.r=='c'"}],"layer":[
 {"mark":{"type":"text","align":"center","dx":3.3,"dy":41},"encoding":{"y":{"field":"r","type":"nominal","scale":{"type":"band","paddingInner":0,"paddingOuter":0},"axis":null,"bandPosition":0},"text":{"field":"sel","type":"quantitative","format":".2f"}}},
 {"mark":{"type":"rule","strokeWidth":1.5,"clip":true},"encoding":{"y":{"field":"r","type":"nominal","scale":{"type":"band","paddingInner":0,"paddingOuter":0},"axis":null,"bandPosition":0.9607}}},
 {"mark":{"type":"rule","strokeWidth":1.8,"clip":true},"encoding":{"y":{"field":"r","type":"nominal","scale":{"type":"band","paddingInner":0,"paddingOuter":0},"axis":null,"bandPosition":1}}},
 {"mark":{"type":"rule","strokeWidth":1.8,"clip":true},"encoding":{"y":{"field":"r","type":"nominal","scale":{"type":"band","paddingInner":0,"paddingOuter":0},"axis":null,"bandPosition":0}}}
]},

{"width":159,"height":170.5,"transform":[{"filter":"datum.r=='d'"}],"layer":[
 {"mark":{"type":"text","align":"left","dx":18.3,"dy":41},"encoding":{"x":{"datum":0,"type":"quantitative","scale":{"domain":[0,1]},"axis":null},"y":{"field":"r","type":"nominal","scale":{"type":"band","paddingInner":0,"paddingOuter":0},"axis":null,"bandPosition":0},"text":{"field":"analyte"}}},
 {"mark":{"type":"rule","strokeWidth":1.5,"clip":true},"encoding":{"y":{"field":"r","type":"nominal","scale":{"type":"band","paddingInner":0,"paddingOuter":0},"axis":null,"bandPosition":0.9607}}},
 {"mark":{"type":"rule","strokeWidth":1.8,"clip":true},"encoding":{"y":{"field":"r","type":"nominal","scale":{"type":"band","paddingInner":0,"paddingOuter":0},"axis":null,"bandPosition":1}}},
 {"mark":{"type":"rule","strokeWidth":1.8,"clip":true},"encoding":{"y":{"field":"r","type":"nominal","scale":{"type":"band","paddingInner":0,"paddingOuter":0},"axis":null,"bandPosition":0}}}
]},
{"width":610,"height":170.5,"view":{"stroke":"black","strokeWidth":1.8},"data":{"name":"chrom"},"transform":[{"fold":["d"],"as":["r","v"]},{"lookup":"r","from":{"data":{"name":"table"},"key":"r","fields":["code"]}}],"resolve":{"scale":{"x":"independent","y":"independent"}},"layer":[
 {"mark":{"type":"line","color":"black","strokeWidth":1.5,"strokeJoin":"round"},"encoding":{"x":{"field":"t","type":"quantitative","scale":{"domain":[0,25],"range":[16.7,591.7],"nice":false},"axis":{"offset":-45.8,"values":[0,1,2,3,4,5,6,7,8,9,10,11,12,13,14,15,16,17,18,19,20,21,22,23,24,25],"tickSize":{"condition":{"test":"datum.value % 10 == 0","value":8},"value":4},"labelExpr":"datum.value == 20 ? '20 Min' : (datum.value % 10 == 0 ? datum.label : '')","labelAlign":{"condition":{"test":"datum.value == 20","value":"left"},"value":"center"},"labelOffset":{"condition":{"test":"datum.value == 20","value":-12.4},"value":0},"title":null}},"y":{"field":"v","type":"quantitative","scale":{"domain":[0,110],"range":[120,10],"nice":false},"axis":null}}},
 {"transform":[{"filter":"datum.t == 25"}],"mark":{"type":"text","font":"Liberation Sans","fontSize":16.4,"color":"#999999","align":"right","dx":10,"dy":32.3},"encoding":{"x":{"field":"t","type":"quantitative","scale":{"domain":[0,25],"range":[16.7,591.7],"nice":false},"axis":null},"y":{"datum":0,"type":"quantitative","scale":{"domain":[0,110],"range":[120,10],"nice":false},"axis":null},"text":{"field":"code"}}},
 {"transform":[{"filter":"datum.t == 0"}],"mark":{"type":"rule","strokeWidth":1.5},"encoding":{"y":{"field":"r","type":"nominal","scale":{"type":"band","paddingInner":0,"paddingOuter":0},"axis":null,"bandPosition":0.9607}}}
]},
{"width":98,"height":170.5,"view":{"stroke":"black","strokeWidth":1.8},"transform":[{"filter":"datum.r=='d'"}],"layer":[
 {"mark":{"type":"text","align":"center","dy":41},"encoding":{"y":{"field":"r","type":"nominal","scale":{"type":"band","paddingInner":0,"paddingOuter":0},"axis":null,"bandPosition":0},"text":{"field":"mrm"}}},
 {"mark":{"type":"rule","strokeWidth":1.5},"encoding":{"y":{"field":"r","type":"nominal","scale":{"type":"band","paddingInner":0,"paddingOuter":0},"axis":null,"bandPosition":0.9607}}}
]},
{"width":162,"height":170.5,"view":{"stroke":"black","strokeWidth":1.8},"transform":[{"filter":"datum.r=='d'"},{"fold":["tr1","tr2"],"as":["which","val"]}],"layer":[
 {"mark":{"type":"text","align":"right","dx":17,"dy":41},"encoding":{"x":{"field":"which","type":"nominal","scale":{"type":"point","padding":0.625},"axis":null},"y":{"field":"r","type":"nominal","scale":{"type":"band","paddingInner":0,"paddingOuter":0},"axis":null,"bandPosition":0},"text":{"field":"val","type":"quantitative","format":".2f"}}},
 {"mark":{"type":"rule","strokeWidth":1.5},"encoding":{"y":{"field":"r","type":"nominal","scale":{"type":"band","paddingInner":0,"paddingOuter":0},"axis":null,"bandPosition":0.9607}}}
]},
{"width":157,"height":170.5,"view":{"stroke":"black","strokeWidth":1.8},"transform":[{"filter":"datum.r=='d'"},{"fold":["k1","k2"],"as":["which","val"]}],"layer":[
 {"mark":{"type":"text","align":"right","dx":20.5,"dy":41},"encoding":{"x":{"field":"which","type":"nominal","scale":{"type":"point","padding":0.612},"axis":null},"y":{"field":"r","type":"nominal","scale":{"type":"band","paddingInner":0,"paddingOuter":0},"axis":null,"bandPosition":0},"text":{"field":"val","type":"quantitative","format":".2f"}}},
 {"mark":{"type":"rule","strokeWidth":1.5},"encoding":{"y":{"field":"r","type":"nominal","scale":{"type":"band","paddingInner":0,"paddingOuter":0},"axis":null,"bandPosition":0.9607}}}
]},
{"width":112,"height":170.5,"transform":[{"filter":"datum.r=='d'"}],"layer":[
 {"mark":{"type":"text","align":"center","dx":3.3,"dy":41},"encoding":{"y":{"field":"r","type":"nominal","scale":{"type":"band","paddingInner":0,"paddingOuter":0},"axis":null,"bandPosition":0},"text":{"field":"sel","type":"quantitative","format":".2f"}}},
 {"mark":{"type":"rule","strokeWidth":1.5,"clip":true},"encoding":{"y":{"field":"r","type":"nominal","scale":{"type":"band","paddingInner":0,"paddingOuter":0},"axis":null,"bandPosition":0.9607}}},
 {"mark":{"type":"rule","strokeWidth":1.8,"clip":true},"encoding":{"y":{"field":"r","type":"nominal","scale":{"type":"band","paddingInner":0,"paddingOuter":0},"axis":null,"bandPosition":1}}},
 {"mark":{"type":"rule","strokeWidth":1.8,"clip":true},"encoding":{"y":{"field":"r","type":"nominal","scale":{"type":"band","paddingInner":0,"paddingOuter":0},"axis":null,"bandPosition":0}}}
]},

{"width":159,"height":170.5,"transform":[{"filter":"datum.r=='e'"}],"layer":[
 {"mark":{"type":"text","align":"left","dx":18.3,"dy":41},"encoding":{"x":{"datum":0,"type":"quantitative","scale":{"domain":[0,1]},"axis":null},"y":{"field":"r","type":"nominal","scale":{"type":"band","paddingInner":0,"paddingOuter":0},"axis":null,"bandPosition":0},"text":{"field":"analyte"}}},
 {"mark":{"type":"rule","strokeWidth":1.5,"clip":true},"encoding":{"y":{"field":"r","type":"nominal","scale":{"type":"band","paddingInner":0,"paddingOuter":0},"axis":null,"bandPosition":0.9607}}},
 {"mark":{"type":"rule","strokeWidth":1.8,"clip":true},"encoding":{"y":{"field":"r","type":"nominal","scale":{"type":"band","paddingInner":0,"paddingOuter":0},"axis":null,"bandPosition":1}}},
 {"mark":{"type":"rule","strokeWidth":1.8,"clip":true},"encoding":{"y":{"field":"r","type":"nominal","scale":{"type":"band","paddingInner":0,"paddingOuter":0},"axis":null,"bandPosition":0}}}
]},
{"width":610,"height":170.5,"view":{"stroke":"black","strokeWidth":1.8},"data":{"name":"chrom"},"transform":[{"fold":["e"],"as":["r","v"]},{"lookup":"r","from":{"data":{"name":"table"},"key":"r","fields":["code"]}}],"resolve":{"scale":{"x":"independent","y":"independent"}},"layer":[
 {"mark":{"type":"line","color":"black","strokeWidth":1.5,"strokeJoin":"round"},"encoding":{"x":{"field":"t","type":"quantitative","scale":{"domain":[0,25],"range":[16.7,591.7],"nice":false},"axis":{"offset":-45.8,"values":[0,1,2,3,4,5,6,7,8,9,10,11,12,13,14,15,16,17,18,19,20,21,22,23,24,25],"tickSize":{"condition":{"test":"datum.value % 10 == 0","value":8},"value":4},"labelExpr":"datum.value == 20 ? '20 Min' : (datum.value % 10 == 0 ? datum.label : '')","labelAlign":{"condition":{"test":"datum.value == 20","value":"left"},"value":"center"},"labelOffset":{"condition":{"test":"datum.value == 20","value":-12.4},"value":0},"title":null}},"y":{"field":"v","type":"quantitative","scale":{"domain":[0,110],"range":[120,10],"nice":false},"axis":null}}},
 {"transform":[{"filter":"datum.t == 25"}],"mark":{"type":"text","font":"Liberation Sans","fontSize":16.4,"color":"#999999","align":"right","dx":10,"dy":32.3},"encoding":{"x":{"field":"t","type":"quantitative","scale":{"domain":[0,25],"range":[16.7,591.7],"nice":false},"axis":null},"y":{"datum":0,"type":"quantitative","scale":{"domain":[0,110],"range":[120,10],"nice":false},"axis":null},"text":{"field":"code"}}},
 {"transform":[{"filter":"datum.t == 0"}],"mark":{"type":"rule","strokeWidth":1.5},"encoding":{"y":{"field":"r","type":"nominal","scale":{"type":"band","paddingInner":0,"paddingOuter":0},"axis":null,"bandPosition":0.9607}}}
]},
{"width":98,"height":170.5,"view":{"stroke":"black","strokeWidth":1.8},"transform":[{"filter":"datum.r=='e'"}],"layer":[
 {"mark":{"type":"text","align":"center","dy":41},"encoding":{"y":{"field":"r","type":"nominal","scale":{"type":"band","paddingInner":0,"paddingOuter":0},"axis":null,"bandPosition":0},"text":{"field":"mrm"}}},
 {"mark":{"type":"rule","strokeWidth":1.5},"encoding":{"y":{"field":"r","type":"nominal","scale":{"type":"band","paddingInner":0,"paddingOuter":0},"axis":null,"bandPosition":0.9607}}}
]},
{"width":162,"height":170.5,"view":{"stroke":"black","strokeWidth":1.8},"transform":[{"filter":"datum.r=='e'"},{"fold":["tr1","tr2"],"as":["which","val"]}],"layer":[
 {"mark":{"type":"text","align":"right","dx":17,"dy":41},"encoding":{"x":{"field":"which","type":"nominal","scale":{"type":"point","padding":0.625},"axis":null},"y":{"field":"r","type":"nominal","scale":{"type":"band","paddingInner":0,"paddingOuter":0},"axis":null,"bandPosition":0},"text":{"field":"val","type":"quantitative","format":".2f"}}},
 {"mark":{"type":"rule","strokeWidth":1.5},"encoding":{"y":{"field":"r","type":"nominal","scale":{"type":"band","paddingInner":0,"paddingOuter":0},"axis":null,"bandPosition":0.9607}}}
]},
{"width":157,"height":170.5,"view":{"stroke":"black","strokeWidth":1.8},"transform":[{"filter":"datum.r=='e'"},{"fold":["k1","k2"],"as":["which","val"]}],"layer":[
 {"mark":{"type":"text","align":"right","dx":20.5,"dy":41},"encoding":{"x":{"field":"which","type":"nominal","scale":{"type":"point","padding":0.612},"axis":null},"y":{"field":"r","type":"nominal","scale":{"type":"band","paddingInner":0,"paddingOuter":0},"axis":null,"bandPosition":0},"text":{"field":"val","type":"quantitative","format":".2f"}}},
 {"mark":{"type":"rule","strokeWidth":1.5},"encoding":{"y":{"field":"r","type":"nominal","scale":{"type":"band","paddingInner":0,"paddingOuter":0},"axis":null,"bandPosition":0.9607}}}
]},
{"width":112,"height":170.5,"transform":[{"filter":"datum.r=='e'"}],"layer":[
 {"mark":{"type":"text","align":"center","dx":3.3,"dy":41},"encoding":{"y":{"field":"r","type":"nominal","scale":{"type":"band","paddingInner":0,"paddingOuter":0},"axis":null,"bandPosition":0},"text":{"field":"sel","type":"quantitative","format":".2f"}}},
 {"mark":{"type":"rule","strokeWidth":1.5,"clip":true},"encoding":{"y":{"field":"r","type":"nominal","scale":{"type":"band","paddingInner":0,"paddingOuter":0},"axis":null,"bandPosition":0.9607}}},
 {"mark":{"type":"rule","strokeWidth":1.8,"clip":true},"encoding":{"y":{"field":"r","type":"nominal","scale":{"type":"band","paddingInner":0,"paddingOuter":0},"axis":null,"bandPosition":1}}},
 {"mark":{"type":"rule","strokeWidth":1.8,"clip":true},"encoding":{"y":{"field":"r","type":"nominal","scale":{"type":"band","paddingInner":0,"paddingOuter":0},"axis":null,"bandPosition":0}}}
]},

{"width":159,"height":170.5,"transform":[{"filter":"datum.r=='f'"}],"layer":[
 {"mark":{"type":"text","align":"left","dx":18.3,"dy":41},"encoding":{"x":{"datum":0,"type":"quantitative","scale":{"domain":[0,1]},"axis":null},"y":{"field":"r","type":"nominal","scale":{"type":"band","paddingInner":0,"paddingOuter":0},"axis":null,"bandPosition":0},"text":{"field":"analyte"}}},
 {"mark":{"type":"rule","strokeWidth":1.5,"clip":true},"encoding":{"y":{"field":"r","type":"nominal","scale":{"type":"band","paddingInner":0,"paddingOuter":0},"axis":null,"bandPosition":0.9607}}},
 {"mark":{"type":"rule","strokeWidth":1.8,"clip":true},"encoding":{"y":{"field":"r","type":"nominal","scale":{"type":"band","paddingInner":0,"paddingOuter":0},"axis":null,"bandPosition":1}}},
 {"mark":{"type":"rule","strokeWidth":1.8,"clip":true},"encoding":{"y":{"field":"r","type":"nominal","scale":{"type":"band","paddingInner":0,"paddingOuter":0},"axis":null,"bandPosition":0}}}
]},
{"width":610,"height":170.5,"view":{"stroke":"black","strokeWidth":1.8},"data":{"name":"chrom"},"transform":[{"fold":["f"],"as":["r","v"]},{"lookup":"r","from":{"data":{"name":"table"},"key":"r","fields":["code"]}}],"resolve":{"scale":{"x":"independent","y":"independent"}},"layer":[
 {"mark":{"type":"line","color":"black","strokeWidth":1.5,"strokeJoin":"round"},"encoding":{"x":{"field":"t","type":"quantitative","scale":{"domain":[0,25],"range":[16.7,591.7],"nice":false},"axis":{"offset":-45.8,"values":[0,1,2,3,4,5,6,7,8,9,10,11,12,13,14,15,16,17,18,19,20,21,22,23,24,25],"tickSize":{"condition":{"test":"datum.value % 10 == 0","value":8},"value":4},"labelExpr":"datum.value == 20 ? '20 Min' : (datum.value % 10 == 0 ? datum.label : '')","labelAlign":{"condition":{"test":"datum.value == 20","value":"left"},"value":"center"},"labelOffset":{"condition":{"test":"datum.value == 20","value":-12.4},"value":0},"title":null}},"y":{"field":"v","type":"quantitative","scale":{"domain":[0,110],"range":[120,10],"nice":false},"axis":null}}},
 {"transform":[{"filter":"datum.t == 25"}],"mark":{"type":"text","font":"Liberation Sans","fontSize":16.4,"color":"#999999","align":"right","dx":10,"dy":32.3},"encoding":{"x":{"field":"t","type":"quantitative","scale":{"domain":[0,25],"range":[16.7,591.7],"nice":false},"axis":null},"y":{"datum":0,"type":"quantitative","scale":{"domain":[0,110],"range":[120,10],"nice":false},"axis":null},"text":{"field":"code"}}},
 {"transform":[{"filter":"datum.t == 0"}],"mark":{"type":"rule","strokeWidth":1.5},"encoding":{"y":{"field":"r","type":"nominal","scale":{"type":"band","paddingInner":0,"paddingOuter":0},"axis":null,"bandPosition":0.9607}}}
]},
{"width":98,"height":170.5,"view":{"stroke":"black","strokeWidth":1.8},"transform":[{"filter":"datum.r=='f'"}],"layer":[
 {"mark":{"type":"text","align":"center","dy":41},"encoding":{"y":{"field":"r","type":"nominal","scale":{"type":"band","paddingInner":0,"paddingOuter":0},"axis":null,"bandPosition":0},"text":{"field":"mrm"}}},
 {"mark":{"type":"rule","strokeWidth":1.5},"encoding":{"y":{"field":"r","type":"nominal","scale":{"type":"band","paddingInner":0,"paddingOuter":0},"axis":null,"bandPosition":0.9607}}}
]},
{"width":162,"height":170.5,"view":{"stroke":"black","strokeWidth":1.8},"transform":[{"filter":"datum.r=='f'"},{"fold":["tr1","tr2"],"as":["which","val"]}],"layer":[
 {"mark":{"type":"text","align":"right","dx":17,"dy":41},"encoding":{"x":{"field":"which","type":"nominal","scale":{"type":"point","padding":0.625},"axis":null},"y":{"field":"r","type":"nominal","scale":{"type":"band","paddingInner":0,"paddingOuter":0},"axis":null,"bandPosition":0},"text":{"field":"val","type":"quantitative","format":".2f"}}},
 {"mark":{"type":"rule","strokeWidth":1.5},"encoding":{"y":{"field":"r","type":"nominal","scale":{"type":"band","paddingInner":0,"paddingOuter":0},"axis":null,"bandPosition":0.9607}}}
]},
{"width":157,"height":170.5,"view":{"stroke":"black","strokeWidth":1.8},"transform":[{"filter":"datum.r=='f'"},{"fold":["k1","k2"],"as":["which","val"]}],"layer":[
 {"mark":{"type":"text","align":"right","dx":20.5,"dy":41},"encoding":{"x":{"field":"which","type":"nominal","scale":{"type":"point","padding":0.612},"axis":null},"y":{"field":"r","type":"nominal","scale":{"type":"band","paddingInner":0,"paddingOuter":0},"axis":null,"bandPosition":0},"text":{"field":"val","type":"quantitative","format":".2f"}}},
 {"mark":{"type":"rule","strokeWidth":1.5},"encoding":{"y":{"field":"r","type":"nominal","scale":{"type":"band","paddingInner":0,"paddingOuter":0},"axis":null,"bandPosition":0.9607}}}
]},
{"width":112,"height":170.5,"transform":[{"filter":"datum.r=='f'"}],"layer":[
 {"mark":{"type":"text","align":"center","dx":3.3,"dy":41},"encoding":{"y":{"field":"r","type":"nominal","scale":{"type":"band","paddingInner":0,"paddingOuter":0},"axis":null,"bandPosition":0},"text":{"field":"sel","type":"quantitative","format":".2f"}}},
 {"mark":{"type":"rule","strokeWidth":1.5,"clip":true},"encoding":{"y":{"field":"r","type":"nominal","scale":{"type":"band","paddingInner":0,"paddingOuter":0},"axis":null,"bandPosition":0.9607}}},
 {"mark":{"type":"rule","strokeWidth":1.8,"clip":true},"encoding":{"y":{"field":"r","type":"nominal","scale":{"type":"band","paddingInner":0,"paddingOuter":0},"axis":null,"bandPosition":1}}},
 {"mark":{"type":"rule","strokeWidth":1.8,"clip":true},"encoding":{"y":{"field":"r","type":"nominal","scale":{"type":"band","paddingInner":0,"paddingOuter":0},"axis":null,"bandPosition":0}}}
]},

{"width":159,"height":170.5,"transform":[{"filter":"datum.r=='g'"}],"layer":[
 {"mark":{"type":"text","align":"left","dx":18.3,"dy":41},"encoding":{"x":{"datum":0,"type":"quantitative","scale":{"domain":[0,1]},"axis":null},"y":{"field":"r","type":"nominal","scale":{"type":"band","paddingInner":0,"paddingOuter":0},"axis":null,"bandPosition":0},"text":{"field":"analyte"}}},
 {"mark":{"type":"rule","strokeWidth":1.5,"clip":true},"encoding":{"y":{"field":"r","type":"nominal","scale":{"type":"band","paddingInner":0,"paddingOuter":0},"axis":null,"bandPosition":0.9607}}},
 {"mark":{"type":"rule","strokeWidth":1.8,"clip":true},"encoding":{"y":{"field":"r","type":"nominal","scale":{"type":"band","paddingInner":0,"paddingOuter":0},"axis":null,"bandPosition":1}}},
 {"mark":{"type":"rule","strokeWidth":1.8,"clip":true},"encoding":{"y":{"field":"r","type":"nominal","scale":{"type":"band","paddingInner":0,"paddingOuter":0},"axis":null,"bandPosition":0}}}
]},
{"width":610,"height":170.5,"view":{"stroke":"black","strokeWidth":1.8},"data":{"name":"chrom"},"transform":[{"fold":["g"],"as":["r","v"]},{"lookup":"r","from":{"data":{"name":"table"},"key":"r","fields":["code"]}}],"resolve":{"scale":{"x":"independent","y":"independent"}},"layer":[
 {"mark":{"type":"line","color":"black","strokeWidth":1.5,"strokeJoin":"round"},"encoding":{"x":{"field":"t","type":"quantitative","scale":{"domain":[0,25],"range":[16.7,591.7],"nice":false},"axis":{"offset":-45.8,"values":[0,1,2,3,4,5,6,7,8,9,10,11,12,13,14,15,16,17,18,19,20,21,22,23,24,25],"tickSize":{"condition":{"test":"datum.value % 10 == 0","value":8},"value":4},"labelExpr":"datum.value == 20 ? '20 Min' : (datum.value % 10 == 0 ? datum.label : '')","labelAlign":{"condition":{"test":"datum.value == 20","value":"left"},"value":"center"},"labelOffset":{"condition":{"test":"datum.value == 20","value":-12.4},"value":0},"title":null}},"y":{"field":"v","type":"quantitative","scale":{"domain":[0,110],"range":[120,10],"nice":false},"axis":null}}},
 {"transform":[{"filter":"datum.t == 25"}],"mark":{"type":"text","font":"Liberation Sans","fontSize":16.4,"color":"#999999","align":"right","dx":10,"dy":32.3},"encoding":{"x":{"field":"t","type":"quantitative","scale":{"domain":[0,25],"range":[16.7,591.7],"nice":false},"axis":null},"y":{"datum":0,"type":"quantitative","scale":{"domain":[0,110],"range":[120,10],"nice":false},"axis":null},"text":{"field":"code"}}},
 {"transform":[{"filter":"datum.t == 0"}],"mark":{"type":"rule","strokeWidth":1.5},"encoding":{"y":{"field":"r","type":"nominal","scale":{"type":"band","paddingInner":0,"paddingOuter":0},"axis":null,"bandPosition":0.9607}}}
]},
{"width":98,"height":170.5,"view":{"stroke":"black","strokeWidth":1.8},"transform":[{"filter":"datum.r=='g'"}],"layer":[
 {"mark":{"type":"text","align":"center","dy":41},"encoding":{"y":{"field":"r","type":"nominal","scale":{"type":"band","paddingInner":0,"paddingOuter":0},"axis":null,"bandPosition":0},"text":{"field":"mrm"}}},
 {"mark":{"type":"rule","strokeWidth":1.5},"encoding":{"y":{"field":"r","type":"nominal","scale":{"type":"band","paddingInner":0,"paddingOuter":0},"axis":null,"bandPosition":0.9607}}}
]},
{"width":162,"height":170.5,"view":{"stroke":"black","strokeWidth":1.8},"transform":[{"filter":"datum.r=='g'"},{"fold":["tr1","tr2"],"as":["which","val"]}],"layer":[
 {"mark":{"type":"text","align":"right","dx":17,"dy":41},"encoding":{"x":{"field":"which","type":"nominal","scale":{"type":"point","padding":0.625},"axis":null},"y":{"field":"r","type":"nominal","scale":{"type":"band","paddingInner":0,"paddingOuter":0},"axis":null,"bandPosition":0},"text":{"field":"val","type":"quantitative","format":".2f"}}},
 {"mark":{"type":"rule","strokeWidth":1.5},"encoding":{"y":{"field":"r","type":"nominal","scale":{"type":"band","paddingInner":0,"paddingOuter":0},"axis":null,"bandPosition":0.9607}}}
]},
{"width":157,"height":170.5,"view":{"stroke":"black","strokeWidth":1.8},"transform":[{"filter":"datum.r=='g'"},{"fold":["k1","k2"],"as":["which","val"]}],"layer":[
 {"mark":{"type":"text","align":"right","dx":20.5,"dy":41},"encoding":{"x":{"field":"which","type":"nominal","scale":{"type":"point","padding":0.612},"axis":null},"y":{"field":"r","type":"nominal","scale":{"type":"band","paddingInner":0,"paddingOuter":0},"axis":null,"bandPosition":0},"text":{"field":"val","type":"quantitative","format":".2f"}}},
 {"mark":{"type":"rule","strokeWidth":1.5},"encoding":{"y":{"field":"r","type":"nominal","scale":{"type":"band","paddingInner":0,"paddingOuter":0},"axis":null,"bandPosition":0.9607}}}
]},
{"width":112,"height":170.5,"transform":[{"filter":"datum.r=='g'"}],"layer":[
 {"mark":{"type":"text","align":"center","dx":3.3,"dy":41},"encoding":{"y":{"field":"r","type":"nominal","scale":{"type":"band","paddingInner":0,"paddingOuter":0},"axis":null,"bandPosition":0},"text":{"field":"sel","type":"quantitative","format":".2f"}}},
 {"mark":{"type":"rule","strokeWidth":1.5,"clip":true},"encoding":{"y":{"field":"r","type":"nominal","scale":{"type":"band","paddingInner":0,"paddingOuter":0},"axis":null,"bandPosition":0.9607}}},
 {"mark":{"type":"rule","strokeWidth":1.8,"clip":true},"encoding":{"y":{"field":"r","type":"nominal","scale":{"type":"band","paddingInner":0,"paddingOuter":0},"axis":null,"bandPosition":1}}},
 {"mark":{"type":"rule","strokeWidth":1.8,"clip":true},"encoding":{"y":{"field":"r","type":"nominal","scale":{"type":"band","paddingInner":0,"paddingOuter":0},"axis":null,"bandPosition":0}}}
]},

{"width":159,"height":170.5,"transform":[{"filter":"datum.r=='h'"}],"layer":[
 {"mark":{"type":"text","align":"left","dx":18.3,"dy":41},"encoding":{"x":{"datum":0,"type":"quantitative","scale":{"domain":[0,1]},"axis":null},"y":{"field":"r","type":"nominal","scale":{"type":"band","paddingInner":0,"paddingOuter":0},"axis":null,"bandPosition":0},"text":{"field":"analyte"}}},
 {"mark":{"type":"rule","strokeWidth":1.5,"clip":true},"encoding":{"y":{"field":"r","type":"nominal","scale":{"type":"band","paddingInner":0,"paddingOuter":0},"axis":null,"bandPosition":0.9607}}},
 {"mark":{"type":"rule","strokeWidth":1.8,"clip":true},"encoding":{"y":{"field":"r","type":"nominal","scale":{"type":"band","paddingInner":0,"paddingOuter":0},"axis":null,"bandPosition":1}}},
 {"mark":{"type":"rule","strokeWidth":1.8,"clip":true},"encoding":{"y":{"field":"r","type":"nominal","scale":{"type":"band","paddingInner":0,"paddingOuter":0},"axis":null,"bandPosition":0}}}
]},
{"width":610,"height":170.5,"view":{"stroke":"black","strokeWidth":1.8},"data":{"name":"chrom"},"transform":[{"fold":["h"],"as":["r","v"]},{"lookup":"r","from":{"data":{"name":"table"},"key":"r","fields":["code"]}}],"resolve":{"scale":{"x":"independent","y":"independent"}},"layer":[
 {"mark":{"type":"line","color":"black","strokeWidth":1.5,"strokeJoin":"round"},"encoding":{"x":{"field":"t","type":"quantitative","scale":{"domain":[0,25],"range":[16.7,591.7],"nice":false},"axis":{"offset":-45.8,"values":[0,1,2,3,4,5,6,7,8,9,10,11,12,13,14,15,16,17,18,19,20,21,22,23,24,25],"tickSize":{"condition":{"test":"datum.value % 10 == 0","value":8},"value":4},"labelExpr":"datum.value == 20 ? '20 Min' : (datum.value % 10 == 0 ? datum.label : '')","labelAlign":{"condition":{"test":"datum.value == 20","value":"left"},"value":"center"},"labelOffset":{"condition":{"test":"datum.value == 20","value":-12.4},"value":0},"title":null}},"y":{"field":"v","type":"quantitative","scale":{"domain":[0,110],"range":[120,10],"nice":false},"axis":null}}},
 {"transform":[{"filter":"datum.t == 25"}],"mark":{"type":"text","font":"Liberation Sans","fontSize":16.4,"color":"#999999","align":"right","dx":10,"dy":32.3},"encoding":{"x":{"field":"t","type":"quantitative","scale":{"domain":[0,25],"range":[16.7,591.7],"nice":false},"axis":null},"y":{"datum":0,"type":"quantitative","scale":{"domain":[0,110],"range":[120,10],"nice":false},"axis":null},"text":{"field":"code"}}},
 {"transform":[{"filter":"datum.t == 0"}],"mark":{"type":"rule","strokeWidth":1.5},"encoding":{"y":{"field":"r","type":"nominal","scale":{"type":"band","paddingInner":0,"paddingOuter":0},"axis":null,"bandPosition":0.9607}}}
]},
{"width":98,"height":170.5,"view":{"stroke":"black","strokeWidth":1.8},"transform":[{"filter":"datum.r=='h'"}],"layer":[
 {"mark":{"type":"text","align":"center","dy":41},"encoding":{"y":{"field":"r","type":"nominal","scale":{"type":"band","paddingInner":0,"paddingOuter":0},"axis":null,"bandPosition":0},"text":{"field":"mrm"}}},
 {"mark":{"type":"rule","strokeWidth":1.5},"encoding":{"y":{"field":"r","type":"nominal","scale":{"type":"band","paddingInner":0,"paddingOuter":0},"axis":null,"bandPosition":0.9607}}}
]},
{"width":162,"height":170.5,"view":{"stroke":"black","strokeWidth":1.8},"transform":[{"filter":"datum.r=='h'"},{"fold":["tr1","tr2"],"as":["which","val"]}],"layer":[
 {"mark":{"type":"text","align":"right","dx":17,"dy":41},"encoding":{"x":{"field":"which","type":"nominal","scale":{"type":"point","padding":0.625},"axis":null},"y":{"field":"r","type":"nominal","scale":{"type":"band","paddingInner":0,"paddingOuter":0},"axis":null,"bandPosition":0},"text":{"field":"val","type":"quantitative","format":".2f"}}},
 {"mark":{"type":"rule","strokeWidth":1.5},"encoding":{"y":{"field":"r","type":"nominal","scale":{"type":"band","paddingInner":0,"paddingOuter":0},"axis":null,"bandPosition":0.9607}}}
]},
{"width":157,"height":170.5,"view":{"stroke":"black","strokeWidth":1.8},"transform":[{"filter":"datum.r=='h'"},{"fold":["k1","k2"],"as":["which","val"]}],"layer":[
 {"mark":{"type":"text","align":"right","dx":20.5,"dy":41},"encoding":{"x":{"field":"which","type":"nominal","scale":{"type":"point","padding":0.612},"axis":null},"y":{"field":"r","type":"nominal","scale":{"type":"band","paddingInner":0,"paddingOuter":0},"axis":null,"bandPosition":0},"text":{"field":"val","type":"quantitative","format":".2f"}}},
 {"mark":{"type":"rule","strokeWidth":1.5},"encoding":{"y":{"field":"r","type":"nominal","scale":{"type":"band","paddingInner":0,"paddingOuter":0},"axis":null,"bandPosition":0.9607}}}
]},
{"width":112,"height":170.5,"transform":[{"filter":"datum.r=='h'"}],"layer":[
 {"mark":{"type":"text","align":"center","dx":3.3,"dy":41},"encoding":{"y":{"field":"r","type":"nominal","scale":{"type":"band","paddingInner":0,"paddingOuter":0},"axis":null,"bandPosition":0},"text":{"field":"sel","type":"quantitative","format":".2f"}}},
 {"mark":{"type":"rule","strokeWidth":1.5,"clip":true},"encoding":{"y":{"field":"r","type":"nominal","scale":{"type":"band","paddingInner":0,"paddingOuter":0},"axis":null,"bandPosition":0.9607}}},
 {"mark":{"type":"rule","strokeWidth":1.8,"clip":true},"encoding":{"y":{"field":"r","type":"nominal","scale":{"type":"band","paddingInner":0,"paddingOuter":0},"axis":null,"bandPosition":1}}},
 {"mark":{"type":"rule","strokeWidth":1.8,"clip":true},"encoding":{"y":{"field":"r","type":"nominal","scale":{"type":"band","paddingInner":0,"paddingOuter":0},"axis":null,"bandPosition":0}}}
]},

{"width":159,"height":161.5,"transform":[{"filter":"datum.r=='i'"}],"layer":[
 {"mark":{"type":"text","align":"left","dx":18.3,"dy":41},"encoding":{"x":{"datum":0,"type":"quantitative","scale":{"domain":[0,1]},"axis":null},"y":{"field":"r","type":"nominal","scale":{"type":"band","paddingInner":0,"paddingOuter":0},"axis":null,"bandPosition":0},"text":{"field":"analyte"}}},
 {"mark":{"type":"rule","strokeWidth":1.8,"clip":true},"encoding":{"y":{"field":"r","type":"nominal","scale":{"type":"band","paddingInner":0,"paddingOuter":0},"axis":null,"bandPosition":0}}},
 {"mark":{"type":"rule","strokeWidth":2,"clip":true},"encoding":{"x":{"datum":1,"type":"quantitative","scale":{"domain":[0,1]},"axis":null}}}
]},
{"width":610,"height":161.5,"data":{"name":"chrom"},"transform":[{"fold":["i"],"as":["r","v"]},{"lookup":"r","from":{"data":{"name":"table"},"key":"r","fields":["code"]}}],"resolve":{"scale":{"x":"independent","y":"independent"}},"layer":[
 {"mark":{"type":"line","color":"black","strokeWidth":1.5,"strokeJoin":"round"},"encoding":{"x":{"field":"t","type":"quantitative","scale":{"domain":[0,25],"range":[16.7,591.7],"nice":false},"axis":{"offset":-36.8,"values":[0,1,2,3,4,5,6,7,8,9,10,11,12,13,14,15,16,17,18,19,20,21,22,23,24,25],"tickSize":{"condition":{"test":"datum.value % 10 == 0","value":8},"value":4},"labelExpr":"datum.value == 20 ? '20 Min' : (datum.value % 10 == 0 ? datum.label : '')","labelAlign":{"condition":{"test":"datum.value == 20","value":"left"},"value":"center"},"labelOffset":{"condition":{"test":"datum.value == 20","value":-12.4},"value":0},"title":null}},"y":{"field":"v","type":"quantitative","scale":{"domain":[0,110],"range":[120,10],"nice":false},"axis":null}}},
 {"transform":[{"filter":"datum.t == 25"}],"mark":{"type":"text","font":"Liberation Sans","fontSize":16.4,"color":"#999999","align":"right","dx":10,"dy":32.3},"encoding":{"x":{"field":"t","type":"quantitative","scale":{"domain":[0,25],"range":[16.7,591.7],"nice":false},"axis":null},"y":{"datum":0,"type":"quantitative","scale":{"domain":[0,110],"range":[120,10],"nice":false},"axis":null},"text":{"field":"code"}}},
 {"transform":[{"filter":"datum.t == 0"}],"mark":{"type":"rule","strokeWidth":2,"clip":true},"encoding":{"x":{"datum":0,"type":"quantitative","scale":{"domain":[0,1]},"axis":null}}},
 {"transform":[{"filter":"datum.t == 0"}],"mark":{"type":"rule","strokeWidth":2,"clip":true},"encoding":{"x":{"datum":1,"type":"quantitative","scale":{"domain":[0,1]},"axis":null}}}
]},
{"width":98,"height":161.5,"transform":[{"filter":"datum.r=='i'"}],"layer":[
 {"mark":{"type":"text","align":"center","dy":41},"encoding":{"y":{"field":"r","type":"nominal","scale":{"type":"band","paddingInner":0,"paddingOuter":0},"axis":null,"bandPosition":0},"text":{"field":"mrm"}}},
 {"mark":{"type":"rule","strokeWidth":2,"clip":true},"encoding":{"x":{"datum":0,"type":"quantitative","scale":{"domain":[0,1]},"axis":null}}},
 {"mark":{"type":"rule","strokeWidth":2,"clip":true},"encoding":{"x":{"datum":1,"type":"quantitative","scale":{"domain":[0,1]},"axis":null}}}
]},
{"width":162,"height":161.5,"transform":[{"filter":"datum.r=='i'"},{"fold":["tr1","tr2"],"as":["which","val"]}],"resolve":{"scale":{"x":"independent"}},"layer":[
 {"mark":{"type":"text","align":"right","dx":17,"dy":41},"encoding":{"x":{"field":"which","type":"nominal","scale":{"type":"point","padding":0.625},"axis":null},"y":{"field":"r","type":"nominal","scale":{"type":"band","paddingInner":0,"paddingOuter":0},"axis":null,"bandPosition":0},"text":{"field":"val","type":"quantitative","format":".2f"}}},
 {"mark":{"type":"rule","strokeWidth":2,"clip":true},"encoding":{"x":{"datum":0,"type":"quantitative","scale":{"domain":[0,1]},"axis":null}}},
 {"mark":{"type":"rule","strokeWidth":2,"clip":true},"encoding":{"x":{"datum":1,"type":"quantitative","scale":{"domain":[0,1]},"axis":null}}}
]},
{"width":157,"height":161.5,"transform":[{"filter":"datum.r=='i'"},{"fold":["k1","k2"],"as":["which","val"]}],"resolve":{"scale":{"x":"independent"}},"layer":[
 {"mark":{"type":"text","align":"right","dx":20.5,"dy":41},"encoding":{"x":{"field":"which","type":"nominal","scale":{"type":"point","padding":0.612},"axis":null},"y":{"field":"r","type":"nominal","scale":{"type":"band","paddingInner":0,"paddingOuter":0},"axis":null,"bandPosition":0},"text":{"field":"val","type":"quantitative","format":".2f"}}},
 {"mark":{"type":"rule","strokeWidth":2,"clip":true},"encoding":{"x":{"datum":0,"type":"quantitative","scale":{"domain":[0,1]},"axis":null}}},
 {"mark":{"type":"rule","strokeWidth":2,"clip":true},"encoding":{"x":{"datum":1,"type":"quantitative","scale":{"domain":[0,1]},"axis":null}}}
]},
{"width":112,"height":161.5,"transform":[{"filter":"datum.r=='i'"}],"layer":[
 {"mark":{"type":"text","align":"center","dx":3.3,"dy":41},"encoding":{"y":{"field":"r","type":"nominal","scale":{"type":"band","paddingInner":0,"paddingOuter":0},"axis":null,"bandPosition":0},"text":{"field":"sel","type":"quantitative","format":".2f"}}},
 {"mark":{"type":"rule","strokeWidth":1.8,"clip":true},"encoding":{"y":{"field":"r","type":"nominal","scale":{"type":"band","paddingInner":0,"paddingOuter":0},"axis":null,"bandPosition":0}}},
 {"mark":{"type":"rule","strokeWidth":2,"clip":true},"encoding":{"x":{"datum":0,"type":"quantitative","scale":{"domain":[0,1]},"axis":null}}}
]}
]
}
